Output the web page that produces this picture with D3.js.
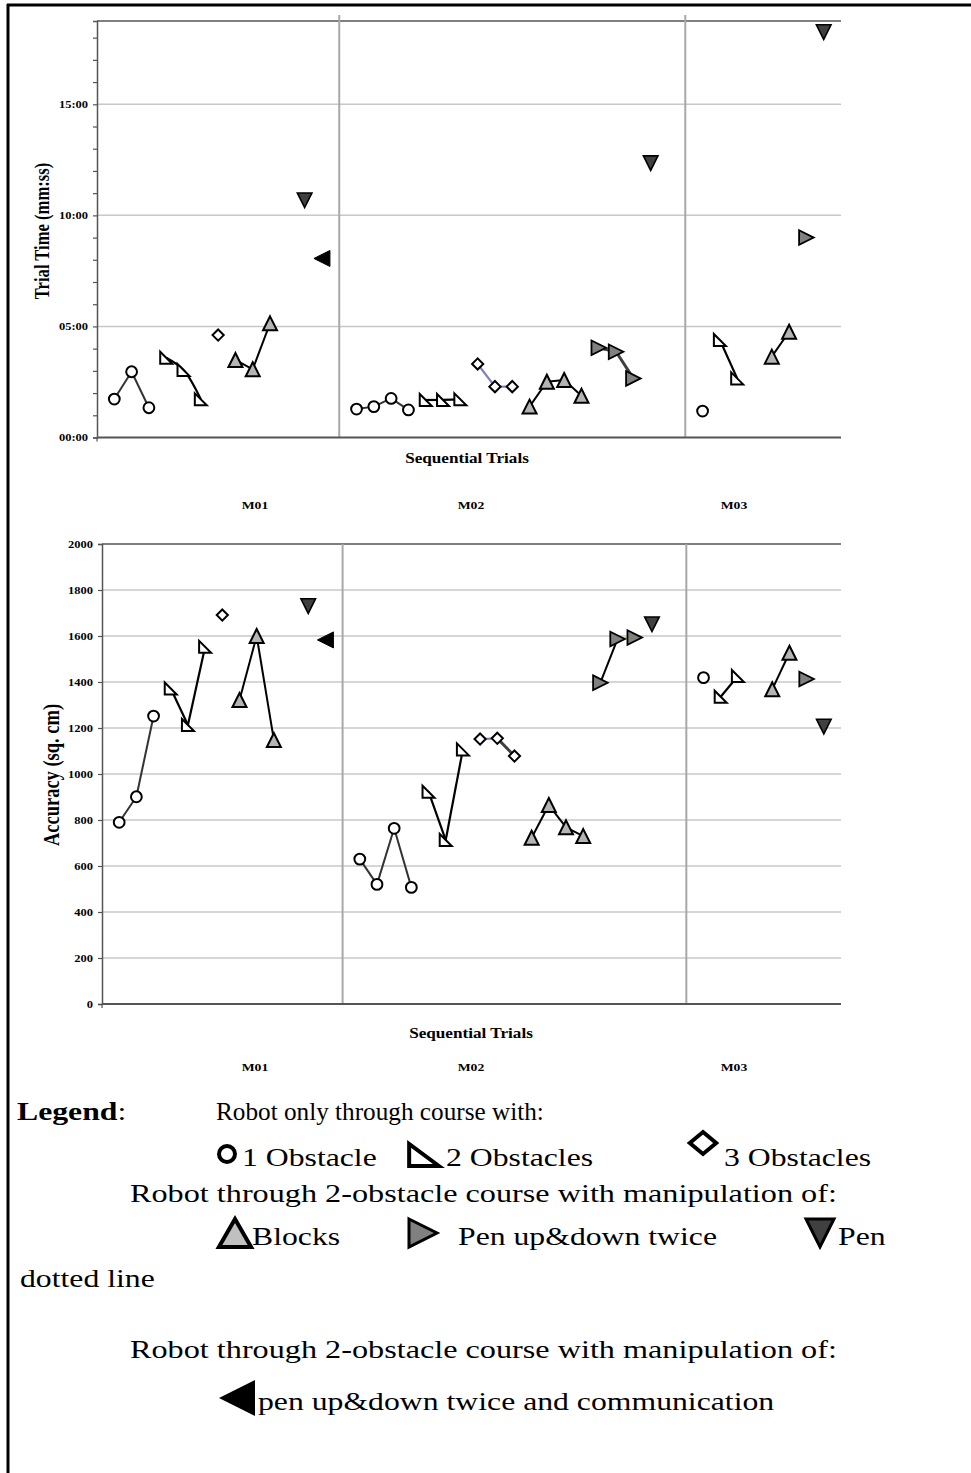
<!DOCTYPE html>
<html><head><meta charset="utf-8">
<script src="https://cdn.jsdelivr.net/npm/d3@7/dist/d3.min.js"></script>
<style>html,body{margin:0;padding:0;background:#fff}svg{display:block}</style>
</head><body>
<svg id="c" width="971" height="1473"></svg>
<script>
// ---------------- DATA ----------------
const groups = ["M01", "M02", "M03"];
const groupBreaks = [14, 34];          // trial slots where a new group starts
const slotCount = 43;
const timeTicks = [0, 5, 10, 15];      // minutes
const accTicks = [0, 200, 400, 600, 800, 1000, 1200, 1400, 1600, 1800, 2000];

const obs1Slots = [1, 2, 3, 15, 16, 17, 18, 35];
const obs1Time  = [1.73, 2.96, 1.34, 1.28, 1.39, 1.76, 1.24, 1.19];
const obs1Acc   = [790, 901, 1252, 630, 520, 764, 507, 1419];

const obs2Slots = [4, 5, 6, 19, 20, 21, 36, 37];
const obs2Time  = [3.59, 3.04, 1.72, 1.69, 1.69, 1.72, 4.39, 2.66];
const obs2Acc   = [1372, 1213, 1553, 923, 713, 1107, 1336, 1426];

const obs3Slots = [7, 22, 23, 24];
const obs3Time  = [4.61, 3.31, 2.29, 2.29];
const obs3Acc   = [1691, 1152, 1155, 1078];

const blockSlots = [8, 9, 10, 25, 26, 27, 28, 39, 40];
const blockTime  = [3.49, 3.07, 5.14, 1.39, 2.51, 2.59, 1.88, 3.64, 4.76];
const blockAcc   = [1322, 1600, 1148, 723, 865, 768, 730, 1368, 1527];

const penUDSlots = [29, 30, 31, 41];
const penUDTime  = [4.04, 3.86, 2.66, 9.0];
const penUDAcc   = [1397, 1587, 1593, 1413];

const penDotSlots = [12, 32, 42];
const penDotTime  = [10.68, 12.35, 18.25];
const penDotAcc   = [1730, 1651, 1206];

const penCommSlots = [13];
const penCommTime  = [8.06];
const penCommAcc   = [1583];

const seriesNames = ["1 Obstacle", "2 Obstacles", "3 Obstacles", "Blocks",
  "Pen up&down twice", "Pen dotted line", "Pen up&down twice and communication"];

// ---------------- SETUP ----------------
const svg = d3.select("#c");
const SX = 1.2; // horizontal stretch of the original picture
const serif = "'Liberation Serif','Times New Roman',serif";

// page frame
svg.append("line").attr("x1", 8).attr("x2", 8).attr("y1", 4).attr("y2", 1473).attr("stroke", "#000").attr("stroke-width", 3);
svg.append("line").attr("x1", 7).attr("x2", 971).attr("y1", 5).attr("y2", 5).attr("stroke", "#000").attr("stroke-width", 3);

function text(g, x, y, s, o) {
  o = o || {};
  const sx = o.sx == null ? SX : o.sx;
  const t = g.append("text")
    .attr("transform", o.rotate ? `translate(${x},${y}) rotate(-90) scale(1,${sx})` : `translate(${x},${y}) scale(${sx},1)`)
    .attr("font-family", serif).attr("font-size", o.size || 12)
    .attr("font-weight", o.weight || "normal")
    .attr("text-anchor", o.anchor || "start")
    .attr("fill", "#000").text(s);
  return t;
}

// marker shapes (bbox centred)
const shapes = {
  circle: s => `M${-s},0A${s},${s} 0 1,0 ${s},0A${s},${s} 0 1,0 ${-s},0Z`,
  rtri: s => `M${-s},${-s}L${-s},${s}L${s},${s}Z`,
  diamond: s => `M0,${-s}L${s},0L0,${s}L${-s},0Z`,
  up: s => `M0,${-s}L${s},${s}L${-s},${s}Z`,
  right: s => `M${-s},${-s}L${s},0L${-s},${s}Z`,
  down: s => `M${-s},${-s}L${s},${-s}L0,${s}Z`,
  left: s => `M${s},${-s}L${-s},0L${s},${s}Z`
};

const series = [
  { name: seriesNames[0], slots: obs1Slots, time: obs1Time, acc: obs1Acc, shape: "circle", size: 5.4, fill: "#fff", sw: 2, line: "#333", lw: 2 },
  { name: seriesNames[1], slots: obs2Slots, time: obs2Time, acc: obs2Acc, shape: "rtri", size: 6, fill: "#fff", sw: 2, line: "#000", lw: 2.2 },
  { name: seriesNames[2], slots: obs3Slots, time: obs3Time, acc: obs3Acc, shape: "diamond", size: 5.6, fill: "#fff", sw: 2, line: "#8080c0", lw: 2.2 },
  { name: seriesNames[3], slots: blockSlots, time: blockTime, acc: blockAcc, shape: "up", size: 7, fill: "#b4b4b4", sw: 2, line: "#000", lw: 2 },
  { name: seriesNames[4], slots: penUDSlots, time: penUDTime, acc: penUDAcc, shape: "right", size: 7.3, fill: "#808080", sw: 1.8, line: "#404040", lw: 3 },
  { name: seriesNames[5], slots: penDotSlots, time: penDotTime, acc: penDotAcc, shape: "down", size: 7.3, fill: "#404040", sw: 1.6, line: "#000", lw: 2 },
  { name: seriesNames[6], slots: penCommSlots, time: penCommTime, acc: penCommAcc, shape: "left", size: 8, fill: "#000", sw: 1, line: "#000", lw: 2 }
];

const groupOf = s => s < groupBreaks[0] ? 0 : (s < groupBreaks[1] ? 1 : 2);

// segment style overrides
function segStyle(chart, si, gi, k) {
  const d = series[si];
  let c = d.line, w = d.lw;
  if (chart === "acc" && si === 2 && gi === 1 && k === 1) { c = "#404040"; w = 3; }
  if (chart === "acc" && si === 4 && gi === 1) { c = k === 0 ? "#000" : "#c8c800"; w = 2; }
  return { c, w };
}

function drawChart(cfg) {
  const g = svg.append("g");
  const x = d3.scaleLinear().domain([0, slotCount]).range([cfg.left, cfg.right]);
  const y = d3.scaleLinear().domain([0, cfg.max]).range([cfg.bottom, cfg.top]);

  // grid
  g.selectAll("line.grid").data(cfg.grid).join("line")
    .attr("x1", cfg.left).attr("x2", cfg.right)
    .attr("y1", d => y(d)).attr("y2", d => y(d))
    .attr("stroke", "#c8c8c8").attr("stroke-width", 1.5);
  // top frame
  g.append("line").attr("x1", cfg.left).attr("x2", cfg.right).attr("y1", y(cfg.max)).attr("y2", y(cfg.max))
    .attr("stroke", "#555").attr("stroke-width", 1.5);
  // separators
  g.selectAll("line.sep").data(groupBreaks).join("line")
    .attr("x1", d => x(d)).attr("x2", d => x(d))
    .attr("y1", cfg.sepTop).attr("y2", cfg.bottom)
    .attr("stroke", "#a8a8a8").attr("stroke-width", 2);

  // y axis
  const ax = d3.axisLeft(y).tickValues(cfg.tickValues).tickSize(4).tickPadding(3.5)
    .tickFormat(cfg.tickFormat);
  const ag = g.append("g").attr("transform", `translate(${cfg.left},0)`).call(ax);
  ag.select(".domain").attr("stroke", "#555").attr("stroke-width", 1.5);
  ag.selectAll(".tick line").attr("stroke", "#555").attr("stroke-width", 1.2);
  ag.selectAll(".tick text").attr("font-family", serif).attr("font-size", 10.4)
    .attr("font-weight", "bold").attr("fill", "#000")
    .attr("transform", `scale(${SX},1)`);

  // x axis line
  g.append("line").attr("x1", cfg.left).attr("x2", cfg.right).attr("y1", cfg.bottom).attr("y2", cfg.bottom)
    .attr("stroke", "#555").attr("stroke-width", 2);
  g.append("line").attr("x1", cfg.left).attr("x2", cfg.left).attr("y1", cfg.bottom).attr("y2", cfg.bottom + 4)
    .attr("stroke", "#555").attr("stroke-width", 1.2);

  // lines
  const lg = g.append("g");
  series.forEach((s, si) => {
    const vals = s[cfg.key];
    const pts = s.slots.map((sl, i) => ({ sl, v: vals[i], gi: groupOf(sl) }));
    groups.forEach((gn, gi) => {
      const gp = pts.filter(p => p.gi === gi);
      if (gp.length < 2) return;
      if (cfg.key === "time" && si === 1 && gi === 0) {
        lg.append("path").datum(gp)
          .attr("d", d3.line().x(p => x(p.sl)).y(p => y(p.v)).curve(d3.curveCatmullRom.alpha(0.5)))
          .attr("fill", "none").attr("stroke", s.line).attr("stroke-width", s.lw);
        return;
      }
      for (let k = 0; k < gp.length - 1; k++) {
        const st = segStyle(cfg.key, si, gi, k);
        lg.append("line")
          .attr("x1", x(gp[k].sl)).attr("y1", y(gp[k].v))
          .attr("x2", x(gp[k + 1].sl)).attr("y2", y(gp[k + 1].v))
          .attr("stroke", st.c).attr("stroke-width", st.w);
      }
    });
  });

  // markers
  const mg = g.append("g");
  series.forEach(s => {
    const vals = s[cfg.key];
    mg.selectAll(null).data(s.slots.map((sl, i) => ({ sl, v: vals[i] }))).join("path")
      .attr("transform", d => `translate(${x(d.sl)},${y(d.v)})`)
      .attr("d", shapes[s.shape](s.size))
      .attr("fill", s.fill).attr("stroke", "#000").attr("stroke-width", s.sw)
      .attr("stroke-linejoin", "miter");
  });

  // titles
  text(g, cfg.ytitleX, cfg.ytitleY, cfg.ytitle, { size: cfg.ytitleSize, weight: "bold", anchor: "middle", rotate: true });
  text(g, cfg.xtitleX, cfg.xtitleY, "Sequential Trials", { size: 14.3, weight: "bold", anchor: "middle" });
  const gxs = cfg.groupX;
  groups.forEach((gn, i) => text(g, gxs[i], cfg.groupY, gn, { size: 11.4, weight: "bold", anchor: "middle" }));
}

const fmtMin = m => (m % 5 === 0) ? String(m).padStart(2, "0") + ":00" : "";

drawChart({
  key: "time", left: 97, right: 841, top: 21, bottom: 437.5, max: 18.75, sepTop: 15,
  grid: [5, 10, 15], tickValues: d3.range(0, 19), tickFormat: fmtMin,
  ytitle: "Trial Time (mm:ss)", ytitleX: 49, ytitleY: 231, ytitleSize: 16.6,
  xtitleX: 467, xtitleY: 463, groupX: [255, 471, 734], groupY: 509
});

drawChart({
  key: "acc", left: 102, right: 841, top: 544, bottom: 1004, max: 2000, sepTop: 544,
  grid: accTicks.filter(v => v > 0 && v < 2000), tickValues: accTicks, tickFormat: d3.format("d"),
  ytitle: "Accuracy (sq. cm)", ytitleX: 59, ytitleY: 775, ytitleSize: 18.5,
  xtitleX: 471, xtitleY: 1038, groupX: [255, 471, 734], groupY: 1071
});

// ---------------- LEGEND ----------------
const L = svg.append("g");
const LS = 26, LX = 1.22;
const lt = text(L, 17, 1120, "", { size: LS, sx: LX });
lt.append("tspan").attr("font-weight", "bold").text("Legend");
lt.append("tspan").text(":");
text(L, 216, 1120, "Robot only through course with:", { size: LS, sx: 0.97 });

function icon(shape, cx, cy, s, fill, sw, kx) {
  L.append("path").attr("transform", `translate(${cx},${cy}) scale(${kx || 1},1)`).attr("d", shapes[shape](s))
    .attr("fill", fill).attr("stroke", "#000").attr("stroke-width", sw).attr("vector-effect", "non-scaling-stroke");
}
icon("circle", 227, 1154, 8, "#fff", 4);
text(L, 242, 1166, seriesNames[0], { size: LS, sx: LX });
icon("rtri", 424, 1155, 11, "#fff", 4, 1.35);
text(L, 446, 1166, seriesNames[1], { size: LS, sx: LX });
icon("diamond", 703, 1143, 11, "#fff", 4, 1.2);
text(L, 724, 1166, seriesNames[2], { size: LS, sx: LX });

text(L, 130, 1202, "Robot through 2-obstacle course with manipulation of:", { size: LS, sx: 1.24 });
icon("up", 235, 1233, 14, "#c0c0c0", 4, 1.15);
text(L, 252, 1245, seriesNames[3], { size: LS, sx: LX });
icon("right", 423, 1233, 14, "#808080", 3);
text(L, 458, 1245, "Pen up&down twice", { size: LS, sx: LX });
icon("down", 820, 1233, 14, "#404040", 3);
text(L, 838, 1245, "Pen", { size: LS, sx: LX });
text(L, 20, 1287, "dotted line", { size: LS, sx: LX });

text(L, 130, 1358, "Robot through 2-obstacle course with manipulation of:", { size: LS, sx: 1.24 });
L.append("path").attr("transform", "translate(237,1398)").attr("d", shapes.left(18)).attr("fill", "#000");
text(L, 258, 1410, "pen up&down twice and communication", { size: LS, sx: LX });
</script>
</body></html>
